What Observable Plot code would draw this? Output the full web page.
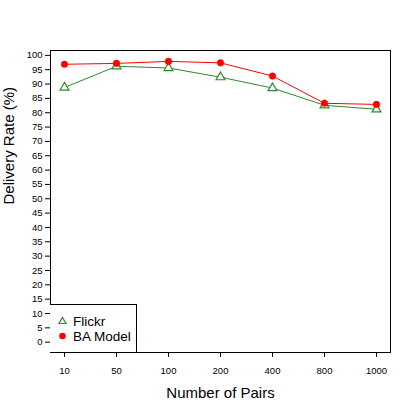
<!DOCTYPE html>
<html>
<head>
<meta charset="utf-8">
<script src="https://cdn.jsdelivr.net/npm/d3@7"></script>
<script src="https://cdn.jsdelivr.net/npm/@observablehq/plot@0.6"></script>
<style>
  html, body { margin: 0; padding: 0; background: #fff; }
  #wrap { position: relative; width: 415px; height: 415px; font-family: "Liberation Sans", Arial, sans-serif; }
  #legend { position: absolute; left: 50px; top: 304px; width: 86px; height: 47px; border: 1px solid #000; border-bottom: none; border-left: none; background: #fff; font-size: 13.5px; color: #000; }
  #legend .row { position: absolute; left: 0; display: flex; align-items: center; }
  #legend svg { display: block; }
</style>
</head>
<body>
<div id="wrap"></div>
<script>
const pairs = ["10", "50", "100", "200", "400", "800", "1000"];
const flickr = [88.8, 96.2, 95.6, 92.4, 88.6, 82.6, 81.2];
const baModel = [96.9, 97.2, 97.9, 97.4, 92.8, 83.3, 82.9];
const yTicks = d3.range(0, 101, 5);
const seriesNames = ["Flickr", "BA Model"];
const green = "#2a8a2a";
const red = "#ff0000";

const fl = pairs.map((p, i) => ({pairs: p, value: flickr[i]}));
const ba = pairs.map((p, i) => ({pairs: p, value: baModel[i]}));

const chart = Plot.plot({
  width: 415,
  height: 415,
  marginLeft: 50,
  marginRight: 25,
  marginTop: 50,
  marginBottom: 63,
  style: {background: "#fff", fontFamily: "Liberation Sans, Arial, sans-serif", fontSize: "9.5px", color: "#000", overflow: "visible"},
  x: {type: "point", domain: pairs, padding: 0.248},
  y: {domain: [-3.6, 101.7]},
  marks: [
    Plot.frame({stroke: "#000", strokeWidth: 1}),
    Plot.axisY({ticks: yTicks, tickSize: 5, tickPadding: 3, label: null, fontSize: 9.5}),
    Plot.axisX({ticks: pairs, tickSize: 5, tickPadding: 10, label: null, fontSize: 9.5}),
    Plot.line(fl, {x: "pairs", y: "value", stroke: green, strokeWidth: 1}),
    Plot.line(ba, {x: "pairs", y: "value", stroke: red, strokeWidth: 1}),
    Plot.dot(fl, {x: "pairs", y: "value", symbol: "triangle", r: 3.3, stroke: green, strokeWidth: 1.2, fill: "#fff"}),
    Plot.dot(ba, {x: "pairs", y: "value", symbol: "circle", r: 3.3, fill: red, stroke: red, strokeWidth: 0.5}),
    Plot.text(["Number of Pairs"], {frameAnchor: "bottom", dy: 41, fontSize: 15, lineAnchor: "middle"}),
    Plot.text(["Delivery Rate (%)"], {frameAnchor: "left", dx: -41, dy: 3, rotate: -90, fontSize: 15, lineAnchor: "middle"})
  ]
});

const wrap = document.getElementById("wrap");
wrap.appendChild(chart);

const legend = document.createElement("div");
legend.id = "legend";
const rowsDef = [
  {name: seriesNames[0], top: 8, sym: `<svg width="23" height="16"><path d="M12.5,4.5 L16,10.5 L9,10.5 Z" fill="#fff" stroke="${green}" stroke-width="1.2"/></svg>`},
  {name: seriesNames[1], top: 23, sym: `<svg width="23" height="16"><circle cx="12.5" cy="8" r="3.3" fill="${red}"/></svg>`}
];
for (const r of rowsDef) {
  const row = document.createElement("div");
  row.className = "row";
  row.style.top = r.top + "px";
  row.innerHTML = r.sym + `<span>${r.name}</span>`;
  legend.appendChild(row);
}
wrap.appendChild(legend);
</script>
</body>
</html>
